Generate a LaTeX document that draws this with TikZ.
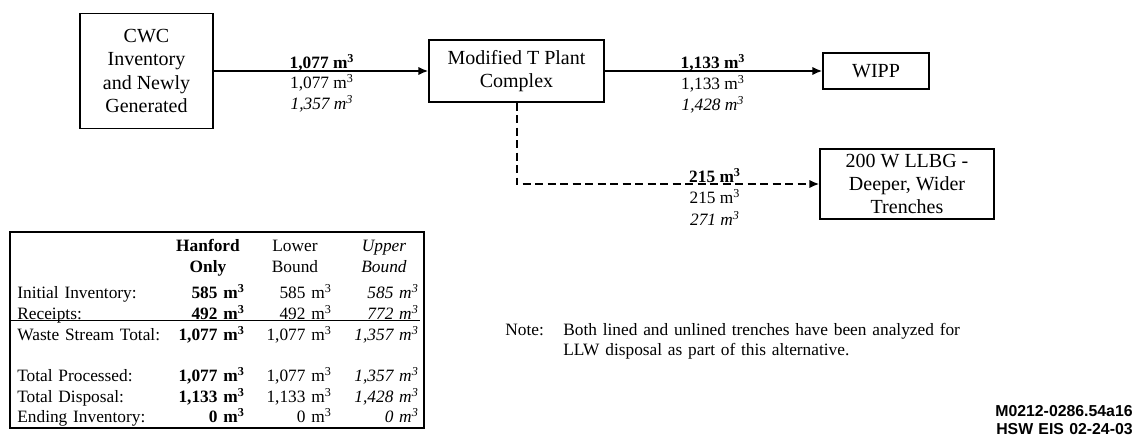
\documentclass[tikz,border=0pt]{standalone}
\usepackage{fontspec}
\setmainfont{Liberation Serif}
\newfontfamily\codefont{Liberation Sans}
\usetikzlibrary{arrows.meta,positioning}

\tikzset{
  plantbox/.style={draw=black,line width=0.7pt,align=center,inner sep=0pt,font=\fontsize{12}{14}\selectfont},
  flowline/.style={line width=1.2pt,-{Latex[length=6pt,width=5pt]}},
  flowdash/.style={flowline,dash pattern=on 5pt off 2.5pt},
  vollbl/.style={anchor=base,inner sep=0pt,font=\fontsize{10.4}{12.4}\selectfont},
  txtblock/.style={inner sep=0pt,text width=#1,font=\fontsize{10.4}{12.4}\selectfont},
}

\begin{document}
\begin{tikzpicture}[x=0.6pt,y=-0.6pt]
\useasboundingbox (0,0) rectangle (1136,437);

% process boxes
\node[plantbox,minimum width=79.8pt,minimum height=69pt] (cwc) at (146.5,71) {CWC\\Inventory\\and Newly\\Generated};
\node[plantbox,minimum width=105pt,minimum height=37.2pt] (tplant) at (516.5,71) {Modified T Plant\\Complex};
\node[plantbox,minimum width=63.6pt,minimum height=21.6pt] (wipp) at (876,71) {WIPP};
\node[plantbox,minimum width=104.4pt,minimum height=42pt] (llbg) at (907,184) {200 W LLBG -\\Deeper, Wider\\Trenches};

% flows
\draw[flowline] (cwc) -- (tplant);
\draw[flowline] (tplant) -- (wipp);
\draw[flowdash] (tplant.south) |- (llbg.west);

% volumes on the flows
\node[vollbl] (inhan) at (322,69) {\textbf{1,077 m\textsuperscript{3}}};
\node[vollbl] (inlow) at (322,89) {1,077 m\textsuperscript{3}};
\node[vollbl] (inupp) at (322,110) {\textit{1,357 m\textsuperscript{3}}};
\node[vollbl] (wipphan) at (713,69) {\textbf{1,133 m\textsuperscript{3}}};
\node[vollbl] (wipplow) at (713,90) {1,133 m\textsuperscript{3}};
\node[vollbl] (wippupp) at (713,111) {\textit{1,428 m\textsuperscript{3}}};
\node[vollbl] (llbghan) at (715,183) {\textbf{215 m\textsuperscript{3}}};
\node[vollbl] (llbglow) at (715,204) {215 m\textsuperscript{3}};
\node[vollbl] (llbgupp) at (715,226) {\textit{271 m\textsuperscript{3}}};

% summary table
\draw[line width=0.7pt] (10,232) rectangle (424,428);
\draw[line width=0.6pt] (10,321) -- (420,321);
\node[txtblock=60pt,align=center,anchor=base] (hdhan) at (208,251.5) {\bfseries Hanford\\Only};
\node[txtblock=60pt,align=center,anchor=base] (hdlow) at (295,251.5) {Lower\\Bound};
\node[txtblock=60pt,align=center,anchor=base] (hdupp) at (384,251.5) {\itshape Upper\\Bound};
\node[txtblock=110pt,align=left,anchor=base west] (rowlbl) at (17,299) {Initial Inventory:\\Receipts:\\Waste Stream Total:\\[12.4pt]Total Processed:\\Total Disposal:\\Ending Inventory:};
\node[txtblock=55pt,align=right,anchor=base east] (colhan) at (245,299) {\bfseries 585 m\textsuperscript{3}\\492 m\textsuperscript{3}\\1,077 m\textsuperscript{3}\\[12.4pt]1,077 m\textsuperscript{3}\\1,133 m\textsuperscript{3}\\0 m\textsuperscript{3}};
\node[txtblock=55pt,align=right,anchor=base east] (collow) at (332,299) {585 m\textsuperscript{3}\\492 m\textsuperscript{3}\\1,077 m\textsuperscript{3}\\[12.4pt]1,077 m\textsuperscript{3}\\1,133 m\textsuperscript{3}\\0 m\textsuperscript{3}};
\node[txtblock=55pt,align=right,anchor=base east] (colupp) at (419,299) {\itshape 585 m\textsuperscript{3}\\772 m\textsuperscript{3}\\1,357 m\textsuperscript{3}\\[12.4pt]1,357 m\textsuperscript{3}\\1,428 m\textsuperscript{3}\\0 m\textsuperscript{3}};

% note and figure code
\node[txtblock=40pt,align=left,anchor=base west] (notehd) at (505,335) {Note:};
\node[txtblock=300pt,align=left,anchor=base west] (notetxt) at (563,335) {Both lined and unlined trenches have been analyzed for\\LLW disposal as part of this alternative.};
\node[txtblock=110pt,align=right,anchor=base east,font=\codefont\bfseries\fontsize{9.5}{10.8}\selectfont] (figcode) at (1133,416.7) {M0212-0286.54a16\\HSW EIS 02-24-03};
\end{tikzpicture}
\end{document}
